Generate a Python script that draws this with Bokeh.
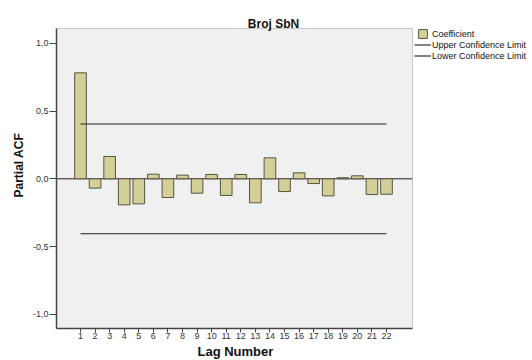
import math
from bokeh.plotting import figure
from bokeh.models import (Range1d, FixedTicker, Legend, LegendItem, ColumnDataSource, Title,
                          BoxAnnotation, Label)
from bokeh.embed import file_html
from bokeh.resources import INLINE

# ---- data ----
title_text = "Broj SbN"
x_label = "Lag Number"
y_label = "Partial ACF"
lags = list(range(1, 23))
coefficients = [0.782, -0.069, 0.165, -0.192, -0.185, 0.034, -0.138, 0.027, -0.106, 0.032,
                -0.123, 0.032, -0.177, 0.155, -0.094, 0.044, -0.035, -0.126, 0.008, 0.022,
                -0.116, -0.114]
upper_confidence = 0.405
lower_confidence = -0.405
ytick_values = [-1.0, -0.5, 0.0, 0.5, 1.0]
ytick_labels = ["-1,0", "-0,5", "0,0", "0,5", "1,0"]
legend_labels = ["Coefficient", "Upper Confidence Limit", "Lower Confidence Limit"]

# ---- layout constants (plot-area box in data units) ----
X_LO, X_HI = -0.647, 23.784
Y_LO, Y_HI = -1.1048, 1.1092

FONT = "Liberation Sans"
BAR_FILL = "#d4cf98"
BAR_LINE = "#55553f"
LINE_COLOR = "#222222"

p = figure(width=532, height=360,
           x_range=Range1d(X_LO, 32.02), y_range=Range1d(Y_LO, 1.3159),
           output_backend="svg", toolbar_location=None,
           min_border_left=56, min_border_right=0, min_border_top=0, min_border_bottom=32)
p.title.visible = False
p.background_fill_color = "white"
p.border_fill_color = "white"
p.outline_line_color = None
p.xgrid.visible = False
p.ygrid.visible = False

# plot-area box
p.add_layout(BoxAnnotation(right=X_HI, top=Y_HI, fill_color="#f0f0f0", fill_alpha=1,
                           line_color="#555555", line_width=1, level="underlay"))

# axes
p.xaxis.ticker = FixedTicker(ticks=lags)
p.xaxis.major_label_overrides = {l: str(l) for l in lags}
p.xaxis.bounds = (X_LO, X_HI)
p.yaxis.ticker = FixedTicker(ticks=ytick_values)
p.yaxis.major_label_overrides = {v: s for v, s in zip(ytick_values, ytick_labels)}
p.yaxis.bounds = (Y_LO, Y_HI)
for ax in (p.xaxis, p.yaxis):
    ax.axis_line_color = "#444444"
    ax.axis_line_width = 1.5
    ax.major_tick_line_color = "#444444"
    ax.major_tick_in = 0
    ax.minor_tick_line_color = None
    ax.major_label_text_font = FONT
    ax.major_label_text_font_size = "9px"
    ax.major_label_text_color = "#333333"
p.xaxis.major_tick_out = 4
p.xaxis.major_label_standoff = 0
p.yaxis.major_tick_out = 7
p.yaxis.major_label_standoff = 1

# axis titles
p.add_layout(Title(text=x_label, align="left", offset=141, standoff=0,
                   text_font=FONT, text_font_size="13px", text_font_style="bold",
                   text_color="#111111"), "below")
p.add_layout(Title(text=y_label, align="left", offset=131, standoff=8,
                   text_font=FONT, text_font_size="12px", text_font_style="bold",
                   text_color="#111111"), "left")

# chart title
p.add_layout(Label(x=14.245, y=1.144, text=title_text, text_align="center",
                   text_baseline="alphabetic", text_font=FONT, text_font_size="12px",
                   text_font_style="bold", text_color="#111111"))

# zero line
p.segment(x0=[X_LO], x1=[X_HI], y0=[0], y1=[0], line_color=LINE_COLOR, line_width=1)

# bars
src = ColumnDataSource(dict(lag=lags, coef=coefficients))
bars = p.vbar(x="lag", top="coef", bottom=0, width=0.8, source=src,
              fill_color=BAR_FILL, line_color=BAR_LINE, line_width=1)

# confidence limits
upper = p.line(x=[lags[0], lags[-1]], y=[upper_confidence, upper_confidence],
               line_color=LINE_COLOR, line_width=1.1)
lower = p.line(x=[lags[0], lags[-1]], y=[lower_confidence, lower_confidence],
               line_color=LINE_COLOR, line_width=1.1)

# legends (inside the extended frame, right of the plot-area box)
common = dict(padding=0, margin=0, border_line_alpha=0, background_fill_alpha=0,
              label_text_font=FONT, label_text_font_size="9px", label_text_color="#111111",
              label_height=11)
leg1 = Legend(items=[LegendItem(label=legend_labels[0], renderers=[bars])],
              location=(361, 289), glyph_width=11, glyph_height=11, label_standoff=4,
              spacing=0, **common)
leg2 = Legend(items=[LegendItem(label=legend_labels[1], renderers=[upper]),
                     LegendItem(label=legend_labels[2], renderers=[lower])],
              location=(358, 267), glyph_width=17, glyph_height=11, label_standoff=1,
              spacing=0, **common)
p.add_layout(leg1)
p.add_layout(leg2)

open("out.html", "w").write(file_html(p, INLINE))
